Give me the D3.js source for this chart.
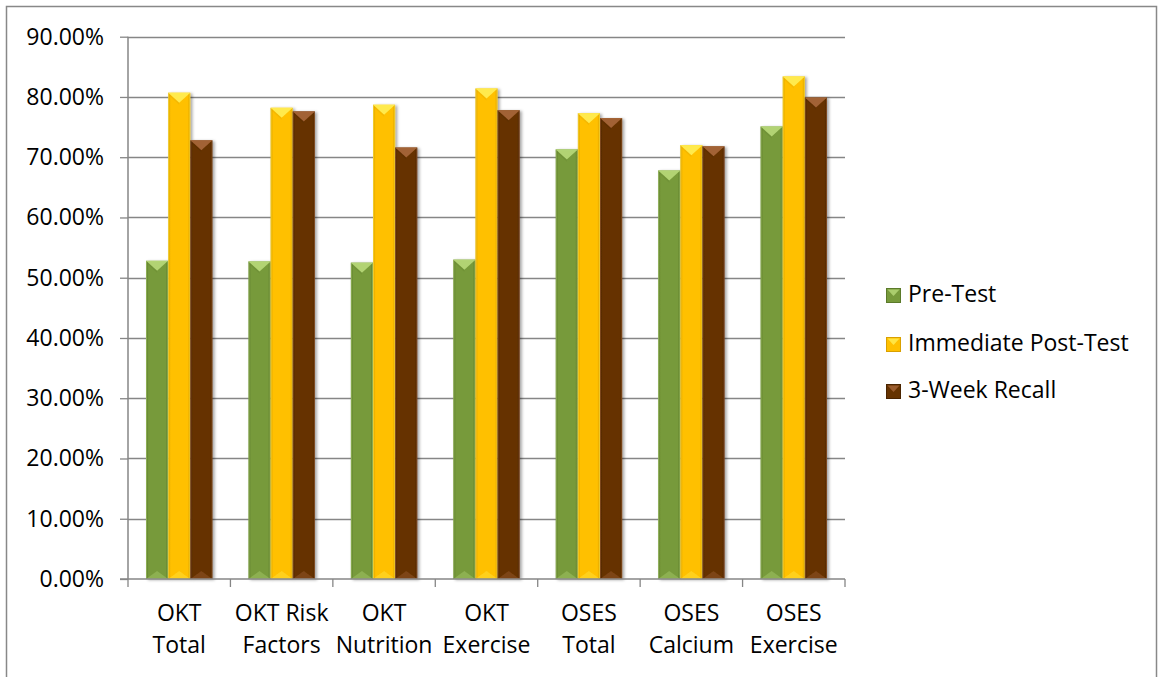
<!DOCTYPE html>
<html>
  <head>
    <meta charset='utf-8'>
    <style>
      body { margin: 0; background: #fff; }
      text { font-family: "Open Sans", Lato, sans-serif; fill: #000; }
    </style>
  </head>
  <body>
    <script src="https://d3js.org/d3.v7.min.js"></script>
    <script type="text/javascript">

      // ---------------------------- data ----------------------------
      var categories = [["OKT", "Total"], ["OKT Risk", "Factors"], ["OKT", "Nutrition"], ["OKT", "Exercise"],
                        ["OSES", "Total"], ["OSES", "Calcium"], ["OSES", "Exercise"]];
      var seriesNames = ["Pre-Test", "Immediate Post-Test", "3-Week Recall"];
      var preTest   = [52.8, 52.7, 52.5, 53.0, 71.3, 67.8, 75.1];
      var postTest  = [80.7, 78.2, 78.7, 81.4, 77.3, 72.0, 83.4];
      var recall    = [72.8, 77.6, 71.6, 77.8, 76.5, 71.8, 79.9];
      var yTicks    = [0, 10, 20, 30, 40, 50, 60, 70, 80, 90];

      var series = [preTest, postTest, recall];
      // base, light, dark
      var colors = [
        {base: "#779a3b", light: "#b8d97a", dark: "#5b7a2a"},
        {base: "#ffc000", light: "#ffee55", dark: "#d9a000"},
        {base: "#663300", light: "#a8673a", dark: "#4a2400"}
      ];

      // --------------------------- layout ---------------------------
      var W = 1158, H = 677;
      var plot = {left: 128, right: 845, top: 36.7, bottom: 579};
      var fs = "23px";

      var svg = d3.select("body").append("svg")
        .attr("width", W).attr("height", H);

      svg.append("rect")
        .attr("x", 6.5).attr("y", 6.5)
        .attr("width", 1150).attr("height", 700)
        .attr("fill", "none").attr("stroke", "#888").attr("stroke-width", 1.5);

      var x0 = d3.scaleBand().domain(d3.range(categories.length))
        .range([plot.left, plot.right]).paddingInner(0).paddingOuter(0);
      var groupPad = 18;
      var x1 = d3.scaleBand().domain(d3.range(series.length))
        .range([groupPad, x0.bandwidth() - groupPad]).padding(0);
      var y = d3.scaleLinear().domain([0, 90]).range([plot.bottom, plot.top]);

      // gradients
      var defs = svg.append("defs");
      colors.forEach(function(c, i){
        var g = defs.append("linearGradient").attr("id", "grad" + i)
          .attr("x1", "0").attr("x2", "1").attr("y1", "0").attr("y2", "0");
        g.append("stop").attr("offset", "0").attr("stop-color", c.dark);
        g.append("stop").attr("offset", "0.12").attr("stop-color", c.base);
        g.append("stop").attr("offset", "0.88").attr("stop-color", c.base);
        g.append("stop").attr("offset", "1").attr("stop-color", c.dark);
      });
      var sh = defs.append("filter").attr("id", "shadow")
        .attr("x", "-20%").attr("y", "-5%").attr("width", "150%").attr("height", "115%");
      sh.append("feDropShadow").attr("dx", 2).attr("dy", 1).attr("stdDeviation", 1.6)
        .attr("flood-color", "#000").attr("flood-opacity", 0.35);

      // grid lines
      svg.append("g").selectAll("line").data(yTicks.slice(1)).enter().append("line")
        .attr("x1", plot.left).attr("x2", plot.right)
        .attr("y1", function(d){ return Math.round(y(d)) + 0.5; })
        .attr("y2", function(d){ return Math.round(y(d)) + 0.5; })
        .attr("stroke", "#868686").attr("stroke-width", 1.3);

      // y axis
      var yAxis = d3.axisLeft(y).tickValues(yTicks).tickSize(8).tickPadding(16)
        .tickFormat(function(d){ return d.toFixed(2) + "%"; });
      var ya = svg.append("g").attr("transform", "translate(" + plot.left + ",0)").call(yAxis);
      ya.select(".domain").remove();
      ya.selectAll("line").attr("stroke", "#868686").attr("stroke-width", 1.3);
      ya.append("line").attr("x1", 0).attr("x2", 0).attr("y1", plot.top).attr("y2", plot.bottom)
        .attr("stroke", "#868686").attr("stroke-width", 1.5);
      ya.selectAll("text").style("font-size", fs).style("font-family", "'Open Sans', sans-serif").attr("fill", "#000");

      // bars
      var groups = svg.append("g").selectAll("g").data(categories).enter().append("g")
        .attr("transform", function(d, i){ return "translate(" + x0(i) + ",0)"; });

      series.forEach(function(vals, s){
        groups.each(function(d, i){
          var g = d3.select(this);
          var bx = x1(s), bw = x1.bandwidth(), top = y(vals[i]), bot = y(0);
          var bar = g.append("g").attr("filter", "url(#shadow)");
          bar.append("rect").attr("x", bx).attr("y", top).attr("width", bw).attr("height", bot - top)
            .attr("fill", "url(#grad" + s + ")");
          // top bevel
          var tri = 10;
          bar.append("path")
            .attr("d", "M" + bx + "," + top + "L" + (bx + bw) + "," + top + "L" + (bx + bw / 2) + "," + (top + tri) + "Z")
            .attr("fill", colors[s].light).attr("opacity", 0.9);
          bar.append("path")
            .attr("d", "M" + bx + "," + top + "L" + (bx + bw / 2) + "," + (top + tri) + "L" + (bx + bw / 2) + "," + (top + tri + 2) + "L" + bx + "," + (top + 2) + "Z")
            .attr("fill", colors[s].dark).attr("opacity", 0.25);
          // bottom bevel
          bar.append("path")
            .attr("d", "M" + bx + "," + bot + "L" + (bx + bw) + "," + bot + "L" + (bx + bw / 2) + "," + (bot - 8) + "Z")
            .attr("fill", colors[s].light).attr("opacity", 0.35);
          bar.append("rect").attr("x", bx + 0.5).attr("y", top + 0.5).attr("width", bw - 1).attr("height", bot - top - 1)
            .attr("fill", "none").attr("stroke", colors[s].light).attr("stroke-opacity", 0.5).attr("stroke-width", 1);
        });
      });

      // x axis
      var xa = svg.append("g");
      xa.append("line").attr("x1", plot.left - 8).attr("x2", plot.right)
        .attr("y1", plot.bottom).attr("y2", plot.bottom)
        .attr("stroke", "#868686").attr("stroke-width", 1.5);
      var bounds = d3.range(categories.length + 1).map(function(i){
        return i < categories.length ? x0(i) : plot.right;
      });
      xa.selectAll(".xt").data(bounds).enter().append("line")
        .attr("x1", function(d){ return d; }).attr("x2", function(d){ return d; })
        .attr("y1", plot.bottom).attr("y2", plot.bottom + 8)
        .attr("stroke", "#868686").attr("stroke-width", 1.3);
      var labels = xa.selectAll(".xl").data(categories).enter().append("text")
        .attr("text-anchor", "middle")
        .attr("x", function(d, i){ return x0(i) + x0.bandwidth() / 2; })
        .attr("y", 621)
        .style("font-size", fs);
      labels.append("tspan").attr("x", function(d, i){ return x0(i) + x0.bandwidth() / 2; })
        .text(function(d){ return d[0]; });
      labels.append("tspan").attr("x", function(d, i){ return x0(i) + x0.bandwidth() / 2; })
        .attr("dy", 32).text(function(d){ return d[1]; });

      // legend
      var legend = svg.append("g").attr("transform", "translate(886,0)");
      var ly = [288, 337, 384];
      seriesNames.forEach(function(n, i){
        var r = legend.append("g").attr("transform", "translate(0," + ly[i] + ")");
        r.append("rect").attr("x", 0.5).attr("y", 0.5).attr("width", 14).attr("height", 14)
          .attr("fill", colors[i].base).attr("stroke", colors[i].dark).attr("stroke-width", 1);
        r.append("path").attr("d", "M1.5,1.5L13.5,1.5L7.5,8Z").attr("fill", colors[i].light).attr("opacity", 0.8);
        r.append("text").attr("x", 22).attr("y", 14).style("font-size", fs).text(n);
      });

  </script>
  </body>
</html>
